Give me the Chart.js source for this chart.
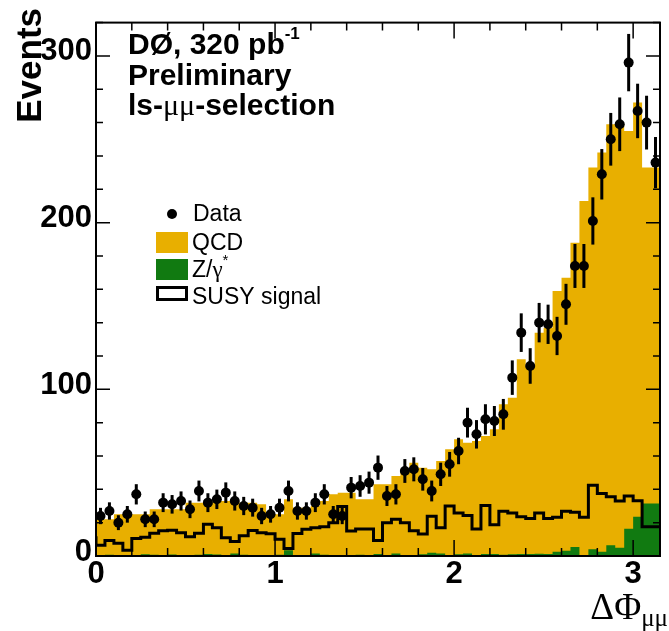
<!DOCTYPE html>
<html>
<head>
<meta charset="utf-8">
<script src="https://cdn.jsdelivr.net/npm/chart.js@4.4.0/dist/chart.umd.min.js"></script>
<style>
  html, body { margin: 0; padding: 0; background: #fff; }
</style>
</head>
<body>
<canvas id="dphi" width="669" height="631"></canvas>
<script>
// Delta-phi between the two muons, 63 bins of 0.05 from 0 to 3.15
const binWidth = 0.05;

const dataCounts = [
  24, 27, 20, 25, 37, 22, 22, 32, 31, 33,
  28, 39, 32, 34, 38, 33, 30, 29, 24, 25,
  29, 39, 27, 27, 32, 37, 25, 24, 41, 42,
  44, 53, 36, 37, 51, 52, 46, 39, 49, 55,
  63, 80, 73, 82, 81, 85, 107, 134, 114, 140,
  139, 132, 151, 174, 174, 201, 229, 250, 259, 296,
  267, 260, 236
];

const qcdBkg = [
  21.5, 21.7, 21.2, 24.5, 24.6, 24.4, 24.0, 27.2, 27.7, 27.1,
  27.5, 31.7, 31.2, 30.8, 32.1, 32.5, 31.5, 31.2, 31.4, 30.6,
  25.7, 24.2, 30.5, 28.5, 28.5, 28.5, 32.2, 36.7, 37.5, 37.5,
  33.2, 33.6, 41.8, 42.4, 46.5, 51.5, 55.6, 52.0, 50.0, 55.5,
  63.8, 69.0, 66.5, 68.6, 70.8, 74.8, 90.2, 94.0, 116.8, 112.8,
  132.6, 135.8, 156.5, 163.9, 182.6, 212.4, 228.9, 239.5, 252.6, 254.0,
  238.7, 248.5, 201.5
];

const zgamBkg = [
  0.5, 0.3, 0.8, 0.5, 0.4, 0.6, 1.0, 0.8, 0.3, 0.9,
  0.5, 0.3, 0.8, 1.2, 0.9, 0.5, 1.5, 0.8, 0.6, 0.4,
  0.3, 0.8, 3.5, 0.5, 0.5, 1.5, 0.8, 0.3, 0.5, 0.5,
  0.8, 0.4, 1.2, 0.6, 1.5, 0.5, 0.4, 1.0, 2.0, 1.5,
  0.2, 1.0, 1.5, 0.4, 1.2, 1.2, 0.8, 1.0, 1.2, 1.2,
  1.4, 1.2, 2.5, 3.1, 5.4, 0.6, 4.1, 2.5, 6.4, 5.0,
  16.3, 23.5, 31.5
];

const susySignal = [
  11.9, 6.4, 9.3, 7.6, 3.5, 10.5, 11.3, 13.6, 15.2, 15.5,
  14.0, 11.5, 13.6, 19.0, 17.0, 11.0, 8.7, 12.2, 15.3, 14.0,
  13.4, 10.0, 4.5, 13.5, 16.0, 17.0, 17.5, 20.0, 29.7, 15.0,
  16.2, 16.2, 9.3, 20.0, 22.0, 20.0, 15.2, 13.2, 23.9, 17.0,
  30.0, 25.8, 24.3, 16.2, 30.3, 18.7, 26.8, 25.8, 23.5, 22.5,
  25.8, 22.5, 23.3, 26.8, 26.2, 23.3, 42.4, 37.5, 35.6, 33.0,
  36.0, 33.2, 17.5
];

const xTickLabels = [0, 1, 2, 3];
const yTickLabels = [0, 100, 200, 300];

const ORANGE = '#e8af00';
const GREEN = '#117a11';
const SANS = '"Liberation Sans", Arial, sans-serif';
const SERIF = '"Liberation Serif", "Times New Roman", serif';

// histogram contents -> points at the bin edges for a stepped line
function stepPoints(vals) {
  const pts = vals.map((v, i) => ({ x: i * binWidth, y: v }));
  pts.push({ x: vals.length * binWidth, y: vals[vals.length - 1] });
  return pts;
}

const stackTotal = qcdBkg.map((v, i) => v + zgamBkg[i]);
const dataPoints = dataCounts.map((n, i) => ({ x: (i + 0.5) * binWidth, y: n }));

// text pieces drawn one after another, each with its own font and baseline shift
function drawRuns(ctx, x, y, runs) {
  runs.forEach(r => {
    ctx.font = r.font;
    ctx.fillText(r.text, x, y + (r.dy || 0));
    x += ctx.measureText(r.text).width + (r.gap || 0);
  });
  return x;
}

const decor = {
  id: 'decor',
  beforeDatasetDraw(chart, args) {
    // sqrt(N) error bars under the data markers
    if (args.index !== 0) return;
    const { ctx, scales: { x, y } } = chart;
    ctx.save();
    ctx.strokeStyle = '#000';
    ctx.lineWidth = 3;
    dataCounts.forEach((n, i) => {
      const px = x.getPixelForValue((i + 0.5) * binWidth);
      const err = Math.sqrt(n);
      ctx.beginPath();
      ctx.moveTo(px, y.getPixelForValue(n - err));
      ctx.lineTo(px, y.getPixelForValue(n + err));
      ctx.stroke();
    });
    ctx.restore();
  },
  afterDraw(chart) {
    const { ctx, chartArea: a, scales: { x, y } } = chart;
    ctx.save();
    ctx.strokeStyle = '#000';
    ctx.fillStyle = '#000';

    // frame
    ctx.lineWidth = 2;
    ctx.strokeRect(a.left, a.top, a.right - a.left, a.bottom - a.top);

    // inward ticks on all four sides
    ctx.lineWidth = 1.5;
    ctx.beginPath();
    for (let k = 0; k * 0.2 < 3.15; k++) {
      const v = Math.round(k * 0.2 * 10) / 10;
      const px = x.getPixelForValue(v);
      const len = Number.isInteger(v) ? 16 : 8;
      ctx.moveTo(px, a.bottom); ctx.lineTo(px, a.bottom - len);
      ctx.moveTo(px, a.top); ctx.lineTo(px, a.top + len);
    }
    for (let v = 0; v <= 320; v += 20) {
      const py = y.getPixelForValue(v);
      const len = v % 100 === 0 ? 14 : 7;
      ctx.moveTo(a.left, py); ctx.lineTo(a.left + len, py);
      ctx.moveTo(a.right, py); ctx.lineTo(a.right - len, py);
    }
    ctx.stroke();

    // axis titles
    ctx.textAlign = 'left';
    ctx.textBaseline = 'alphabetic';
    ctx.save();
    ctx.translate(41, 8);
    ctx.rotate(-Math.PI / 2);
    ctx.textAlign = 'right';
    ctx.font = 'bold 35px ' + SANS;
    ctx.fillText('Events', 0, 0);
    ctx.restore();

    ctx.font = '37px ' + SERIF;
    const wPhi = ctx.measureText('ΔΦ').width;
    ctx.font = '25px ' + SERIF;
    const wSub = ctx.measureText('μμ').width;
    drawRuns(ctx, 668 - wPhi - wSub, 619, [
      { text: 'ΔΦ', font: '37px ' + SERIF },
      { text: 'μμ', font: '25px ' + SERIF, dy: 7 }
    ]);

    // labels in the upper left
    const bold = 'bold 30px ' + SANS;
    drawRuns(ctx, 128, 54, [
      { text: 'DØ, 320 pb', font: bold },
      { text: '-1', font: 'bold 17px ' + SANS, dy: -15 }
    ]);
    drawRuns(ctx, 128, 85, [{ text: 'Preliminary', font: bold }]);
    drawRuns(ctx, 128, 115, [
      { text: 'ls-', font: bold },
      { text: 'μμ', font: '30px ' + SERIF },
      { text: '-selection', font: bold }
    ]);

    // legend
    const lf = '23px ' + SANS;
    ctx.beginPath();
    ctx.arc(172, 214, 5, 0, Math.PI * 2);
    ctx.fill();
    drawRuns(ctx, 193, 221, [{ text: 'Data', font: lf }]);

    ctx.fillStyle = ORANGE;
    ctx.fillRect(156, 232, 32, 21);
    ctx.fillStyle = GREEN;
    ctx.fillRect(156, 259, 32, 21);
    ctx.fillStyle = '#000';
    ctx.lineWidth = 3;
    ctx.strokeRect(157.5, 287.5, 29, 12);

    drawRuns(ctx, 192, 250, [{ text: 'QCD', font: lf }]);
    drawRuns(ctx, 192, 277, [
      { text: 'Z/', font: lf },
      { text: 'γ', font: '23px ' + SERIF },
      { text: '*', font: '15px ' + SANS, dy: -12 }
    ]);
    drawRuns(ctx, 192, 304, [{ text: 'SUSY signal', font: lf }]);

    ctx.restore();
  }
};

const tickFont = { family: SANS, weight: 'bold', size: 31 };

new Chart(document.getElementById('dphi'), {
  type: 'line',
  data: {
    datasets: [
      {
        label: 'Data', data: dataPoints, showLine: false,
        pointRadius: 5, pointBackgroundColor: '#000', pointBorderWidth: 0, order: 0
      },
      {
        label: 'SUSY signal', data: stepPoints(susySignal), stepped: 'after',
        borderColor: '#000', borderWidth: 3, pointRadius: 0, fill: false, order: 1
      },
      {
        label: 'Z/γ*', data: stepPoints(zgamBkg), stepped: 'after',
        borderColor: 'transparent', borderWidth: 0, pointRadius: 0,
        backgroundColor: GREEN, fill: 'origin', order: 2
      },
      {
        label: 'QCD', data: stepPoints(stackTotal), stepped: 'after',
        borderColor: 'transparent', borderWidth: 0, pointRadius: 0,
        backgroundColor: ORANGE, fill: 'origin', order: 3
      }
    ]
  },
  options: {
    responsive: false,
    animation: false,
    devicePixelRatio: 1,
    layout: { padding: { left: 0, top: 8, right: 9, bottom: 0 } },
    plugins: { legend: { display: false }, tooltip: { enabled: false } },
    scales: {
      x: {
        type: 'linear', min: 0, max: 3.15,
        grid: { display: false, drawTicks: false },
        border: { display: false },
        afterBuildTicks: s => { s.ticks = xTickLabels.map(v => ({ value: v })); },
        ticks: { font: tickFont, color: '#000', padding: 0, maxRotation: 0, autoSkip: false },
        afterFit: s => { s.height = 75; }
      },
      y: {
        min: 0, max: 320,
        grid: { display: false, drawTicks: false },
        border: { display: false },
        afterBuildTicks: s => { s.ticks = yTickLabels.map(v => ({ value: v })); },
        ticks: { font: tickFont, color: '#000', padding: 4, labelOffset: -4 },
        afterFit: s => { s.width = 96; }
      }
    }
  },
  plugins: [decor]
});
</script>
</body>
</html>
